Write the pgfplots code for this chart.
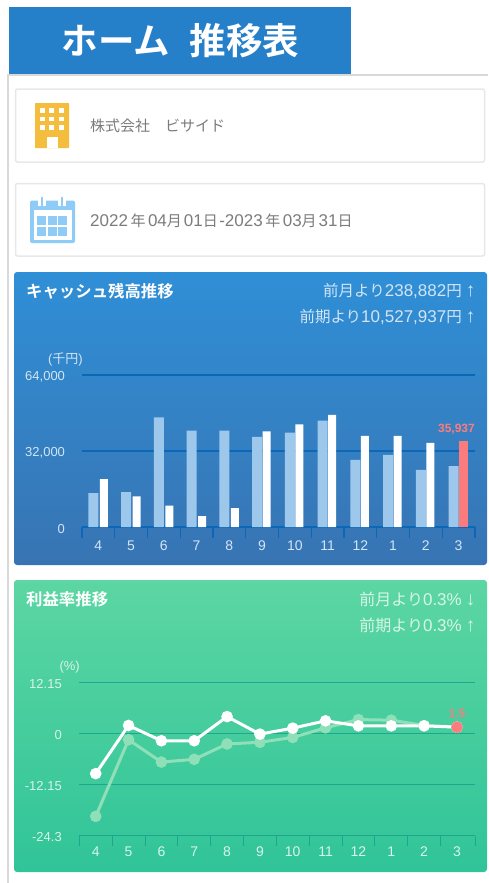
\documentclass[border=0pt]{standalone}
\usepackage{fontspec}
\usepackage{pgfplots}
\pgfplotsset{compat=1.18}
\setmainfont{Noto Sans CJK JP}[BoldFont={Noto Sans CJK JP Bold}]
\newfontfamily\lat{Liberation Sans}
\newcommand{\num}[2]{{\lat\fontsize{#1}{#1}\selectfont #2}}
\definecolor{hdr}{HTML}{2680C9}
\definecolor{frameg}{HTML}{D9D9D9}
\definecolor{cardb}{HTML}{E8E8E8}
\definecolor{txt}{HTML}{7C7C7C}
\definecolor{bt}{HTML}{2F8FD6}
\definecolor{bb}{HTML}{3874B3}
\definecolor{gt}{HTML}{5CD6A3}
\definecolor{gb}{HTML}{30C498}
\definecolor{bgrid}{HTML}{0B68B8}
\definecolor{ggrid}{HTML}{1FA68F}
\definecolor{blab}{HTML}{D2E5F5}
\definecolor{glab}{HTML}{D8F5E8}
\definecolor{lbar}{HTML}{9DC8EC}
\definecolor{lgreen}{HTML}{8FDFB8}
\definecolor{red1}{HTML}{FC7C7E}
\definecolor{amber}{HTML}{F5BD3E}
\definecolor{cal}{HTML}{8FCBF7}
\pgfplotstableread{
x light
0 14250
1 14670
2 46100
3 40500
4 40500
5 37860
6 39670
7 44700
8 28220
9 30300
10 24030
11 25560
}\cashlight
\pgfplotstableread{
x white
0 20100
1 12850
2 8940
3 4610
4 7960
}\cashwhiteA
\pgfplotstableread{
x white
5 40230
6 43170
7 47080
8 38280
9 38280
10 35340
}\cashwhiteB
\pgfplotstableread{
x light white
0 -19.7 -9.55
1 -1.5 1.9
2 -6.8 -1.74
3 -6.15 -1.74
4 -2.5 4.0
5 -2.1 -0.16
6 -0.95 1.26
7 1.34 3.0
8 3.3 1.8
9 3.15 1.8
10 1.9 1.8
11 1.5 1.5
}\ratetable
\begin{document}
\begin{tikzpicture}[x=1pt,y=-1pt]
\path[use as bounding box,fill=white] (0,0) rectangle (488,883);
% header
\fill[hdr] (9,7) rectangle (351,74);
\node[anchor=center,text=white,font=\bfseries\fontsize{36.5}{36.5}\selectfont,inner sep=0] at (180.5,41) {ホーム\hspace{20pt}推移表};
\draw[frameg,line width=1.5pt] (8,883) -- (8,75) -- (488,75);
% cards
\draw[cardb,line width=1.5pt,rounded corners=2pt] (15.5,89) rectangle (484.5,162);
\draw[cardb,line width=1.5pt,rounded corners=2pt] (15.5,183.5) rectangle (484.5,256);
% building icon
\fill[amber,rounded corners=0.7pt] (35,103) rectangle (69,148);
\foreach \i in {0,1,2}{\foreach \j in {0,1,2}{
  \fill[white] (39.5+\i*9.5,108+\j*8.5) rectangle (44.5+\i*9.5,112.5+\j*8.5);}}
\fill[white] (46.5,137) rectangle (57.5,148);
% calendar icon
\fill[cal,rounded corners=2pt] (30,200.5) rectangle (75,243);
\fill[white] (33.5,210) rectangle (71.5,239.5);
\fill[white] (38,196) rectangle (46,206);
\fill[white] (58,196) rectangle (66,206);
\draw[cal,line width=1.6pt,line cap=round] (42,197.5) -- (42,207);
\draw[cal,line width=1.6pt,line cap=round] (62,197.5) -- (62,207);
\foreach \i in {0,1,2}{\foreach \j in {0,1}{
  \fill[cal] (37+\i*10.7,216+\j*10.5) rectangle (46+\i*10.7,225+\j*10.5);}}
\node[anchor=west,text=txt,font=\fontsize{15}{15}\selectfont,inner sep=0] at (90,126) {株式会社　ビサイド};
\node[anchor=west,text=txt,font=\fontsize{15}{15}\selectfont,inner sep=0] at (90,220.5) {\num{17}{2022}\,年\,\num{17}{04}月\hspace{2pt}\num{17}{01}日\hspace{1.5pt}\num{17}{-2023}\,年\,\num{17}{03}月\hspace{2pt}\num{17}{31}日};
% panels
\shade[top color=bt,bottom color=bb,rounded corners=3pt] (14,272) rectangle (487,565);
\shade[top color=gt,bottom color=gb,rounded corners=3pt] (14,580) rectangle (487,872);
% panel texts
\node[anchor=west,text=white,font=\bfseries\fontsize{16.4}{16.4}\selectfont,inner sep=0] at (26,291.5) {キャッシュ残高推移};
\node[anchor=east,text=blab,font=\fontsize{15.5}{15.5}\selectfont,inner sep=0] at (475.5,291.5) {前月より\num{17}{238,882}円\hspace{4pt}\num{19}{↑}};
\node[anchor=east,text=blab,font=\fontsize{15.5}{15.5}\selectfont,inner sep=0] at (475.5,317.5) {前期より\num{17}{10,527,937}円\hspace{4pt}\num{19}{↑}};
\node[anchor=east,text=blab,font=\fontsize{13}{13}\selectfont,inner sep=0] at (83,359) {{\lat (}千円{\lat )}};
\node[anchor=west,text=white,font=\bfseries\fontsize{16.4}{16.4}\selectfont,inner sep=0] at (26,599) {利益率推移};
\node[anchor=east,text=glab,font=\fontsize{16}{16}\selectfont,inner sep=0] at (475.5,599) {前月より\num{17}{0.3\%}\hspace{4pt}\num{19}{↓}};
\node[anchor=east,text=glab,font=\fontsize{16}{16}\selectfont,inner sep=0] at (475.5,625) {前期より\num{17}{0.3\%}\hspace{4pt}\num{19}{↑}};
\node[anchor=east,text=glab,font=\lat\fontsize{13}{13}\selectfont,inner sep=0] at (80,667.5) {(\%)};
% cash axis
\begin{axis}[
  at={(82pt,-527pt)},anchor=south west,scale only axis,width=393pt,height=152.3pt,
  xmin=-0.5,xmax=11.5,ymin=0,ymax=64000,clip=false,
  scaled y ticks=false,
  axis x line=bottom,axis y line=left,
  axis line style={-},
  y axis line style={draw=none},
  x axis line style={bgrid,line width=2pt},
  xtick={0,...,11},xticklabels={4,5,6,7,8,9,10,11,12,1,2,3},
  minor xtick={-0.5,0.5,...,11.5},
  ytick={0,32000,64000},yticklabels={0,{32,000},{64,000}},
  major tick length=0pt,minor tick length=11pt,tick align=outside,
  minor tick style={bgrid,line width=1.4pt},
  ymajorgrids,major grid style={bgrid,line width=1.9pt},
  xticklabel style={anchor=base,yshift=-23pt,text=blab,font=\lat\fontsize{14}{14}\selectfont},
  yticklabel style={anchor=east,xshift=-13.5pt,yshift=-2pt,text=blab,font=\lat\fontsize{13}{13}\selectfont},
  ybar,
]
\addplot[ybar,fill=lbar,draw=none,bar width=9.8pt,bar shift=-5pt] table[x=x,y=light] {\cashlight};
\addplot[ybar,fill=white,draw=none,bar width=8pt,bar shift=5.6pt] table[x=x,y=white] {\cashwhiteA};
\addplot[ybar,fill=white,draw=none,bar width=8pt,bar shift=4.4pt] table[x=x,y=white] {\cashwhiteB};
\addplot[ybar,fill=red1,draw=none,bar width=9pt,bar shift=4.8pt] coordinates {(11,35937)};
\node[anchor=east,text=red1,font=\lat\bfseries\fontsize{12}{12}\selectfont,inner sep=0] at (axis cs:11.5,41180) {35,937};
\end{axis}
% rate axis
\begin{axis}[
  at={(79.3pt,-835.7pt)},anchor=south west,scale only axis,width=395.7pt,height=153.4pt,
  xmin=-0.5,xmax=11.55,ymin=-24.3,ymax=12.15,clip=false,
  axis x line=bottom,axis y line=left,
  axis line style={-},
  y axis line style={draw=none},
  x axis line style={ggrid,line width=1.1pt},
  xtick={0,...,11},xticklabels={4,5,6,7,8,9,10,11,12,1,2,3},
  minor xtick={-0.5,0.5,...,10.5,11.55},
  ytick={-24.3,-12.15,0,12.15},yticklabels={-24.3,-12.15,0,12.15},
  major tick length=0pt,minor tick length=10pt,tick align=outside,
  minor tick style={ggrid,line width=0.8pt},
  ymajorgrids,major grid style={ggrid,line width=1.2pt},
  xticklabel style={anchor=base,yshift=-21pt,text=glab,font=\lat\fontsize{14}{14}\selectfont},
  yticklabel style={anchor=east,xshift=-14pt,yshift=-1.5pt,text=glab,font=\lat\fontsize{13}{13}\selectfont},
]
\addplot[lgreen,line width=3pt,mark=*,mark size=5.3pt,mark options={fill=lgreen,draw=lgreen,line width=1pt}] table[x=x,y=light] {\ratetable};
\addplot[white,line width=3pt,mark=*,mark size=5.3pt,mark options={fill=white,draw=white,line width=1pt}] table[x=x,y=white] {\ratetable};
\addplot[red1,only marks,mark=*,mark size=5.3pt,mark options={fill=red1,draw=red1,line width=1pt}] coordinates {(11,1.5)};
\node[anchor=center,text=red1,font=\lat\bfseries\fontsize{12}{12}\selectfont,inner sep=0] at (axis cs:11,4.66) {1.5};
\end{axis}
\end{tikzpicture}
\end{document}
